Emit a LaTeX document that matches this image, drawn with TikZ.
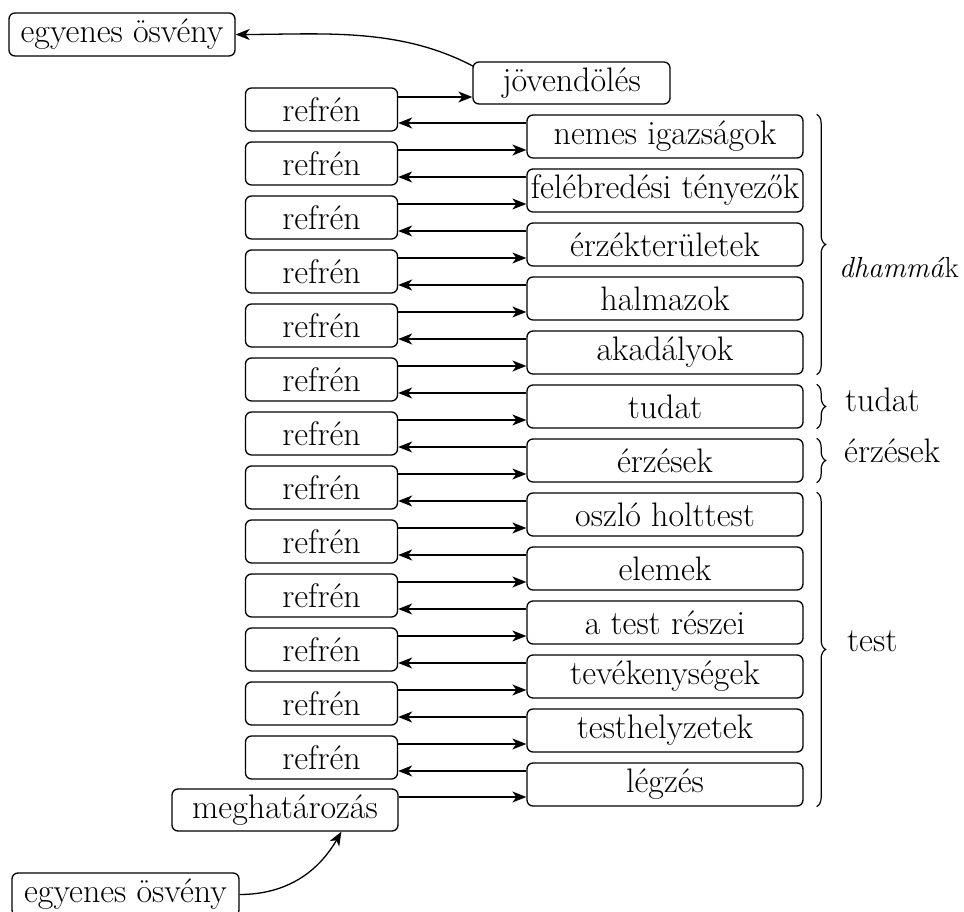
\documentclass[tikz,border=0pt]{standalone}
\usepackage{fontspec}
\usetikzlibrary{arrows.meta,decorations.pathreplacing}
\begin{document}
\begin{tikzpicture}[x=1pt,y=1pt,
  box/.style={draw, rounded corners=6pt, line width=1.3pt, minimum height=43pt,
    inner xsep=2pt, inner ysep=0pt, font=\fontsize{34}{40}\selectfont},
  refbox/.style={box, minimum width=152pt},
  rbox/.style={box, minimum width=276pt},
  arr/.style={line width=1.3pt, -{Stealth[length=14pt,width=11pt,inset=4pt]}},
  brc/.style={decorate, decoration={brace, amplitude=9pt}, line width=1.2pt},
  lab/.style={anchor=base west, inner sep=0pt, font=\fontsize{34}{40}\selectfont}]
\useasboundingbox (0,0) rectangle (964,912);
\node[box, minimum width=226pt] (top) at (122,877.5) {egyenes ösvény};
\node[box, minimum width=197pt, minimum height=42pt] (jov) at (571.5,829) {jövendölés};
\node[box, minimum width=226pt, minimum height=42pt] (meg) at (285,102) {meghatározás};
\node[box, minimum width=227pt] (bot) at (125.5,17.5) {egyenes ösvény};
\foreach \i/\t in {1/nemes igazságok,2/felébredési tényezők,3/érzékterületek,4/halmazok,
  5/akadályok,6/tudat,7/érzések,8/oszló holttest,9/elemek,10/a test részei,
  11/tevékenységek,12/testhelyzetek,13/légzés}{
  \node[refbox] (r\i) at (321.5,{802.5-54*(\i-1)}) {refrén};
  \node[rbox] (n\i) at (665,{775.5-54*(\i-1)}) {\t};
  \draw[arr] ([yshift=13.5pt]n\i.west) -- ([yshift=-13.5pt]r\i.east);
}
\foreach \i [evaluate=\i as \j using int(\i-1)] in {2,...,13}{
  \draw[arr] ([yshift=13.5pt]r\i.east) -- ([yshift=-13.5pt]n\j.west);
}
\draw[arr] ([yshift=12.5pt]r1.east) -- ([yshift=-14pt]jov.west);
\draw[arr] ([yshift=13pt]meg.east) -- ([yshift=-12.5pt]n13.west);
\draw[arr] ([shift={(1pt,-5pt)}]jov.north west) to[out=152,in=0,looseness=0.9] (top.east);
\draw[arr] (bot.east) to[out=0,in=-120] (meg.-21);
\draw[brc] ([xshift=13pt]n1.north east) -- ([xshift=13pt]n5.south east);
\draw[brc] ([xshift=13pt]n6.north east) -- ([xshift=13pt]n6.south east);
\draw[brc] ([xshift=13pt]n7.north east) -- ([xshift=13pt]n7.south east);
\draw[brc] ([xshift=13pt]n8.north east) -- ([xshift=13pt]n13.south east);
\node[lab, font=\fontsize{29}{34}\selectfont] (ldh) at (839,634) {\textit{dhammá}k};
\node[lab] (ltu) at (845,500) {tudat};
\node[lab] (ler) at (844,449) {érzések};
\node[lab] (lte) at (847,260) {test};
\end{tikzpicture}
\end{document}
